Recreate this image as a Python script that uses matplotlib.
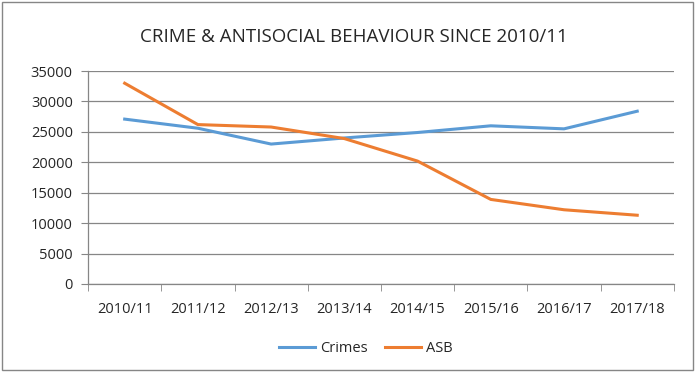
import matplotlib
matplotlib.use("Agg")
import matplotlib.pyplot as plt
from matplotlib.patches import Rectangle
import numpy as np

years = ["2010/11", "2011/12", "2012/13", "2013/14", "2014/15", "2015/16", "2016/17", "2017/18"]
crimes = [27100, 25600, 23000, 24000, 24900, 26000, 25500, 28400]
asb = [33000, 26200, 25800, 23900, 20200, 13900, 12200, 11300]

plt.rcParams['font.family'] = ['Open Sans', 'DejaVu Sans']

fig = plt.figure(figsize=(6.99, 3.72), dpi=100)
ax = fig.add_axes([0.126, 0.2366, 0.838, 0.5724])

x = np.arange(len(years))
ax.plot(x, crimes, color="#5B9BD5", lw=2.2, label="Crimes")
ax.plot(x, asb, color="#ED7D31", lw=2.2, label="ASB")

ax.set_xlim(-0.5, len(years) - 0.5)
ax.set_ylim(0, 35000)
ax.set_yticks(np.arange(0, 35001, 5000))
ax.yaxis.grid(True, color="#868686", lw=0.9)
ax.set_axisbelow(True)

ax.set_xticks(x)
ax.set_xticklabels(years)
ax.set_xticks(np.arange(-0.5, len(years), 1), minor=True)
ax.tick_params(axis="x", which="major", length=0, pad=13, labelsize=10.5, colors="#262626")
ax.tick_params(axis="x", which="minor", length=5, color="#868686")
ax.tick_params(axis="y", length=5, color="#868686", labelsize=10.5, labelcolor="#262626", pad=6)

for s in ["top", "right"]:
    ax.spines[s].set_visible(False)
for s in ["left", "bottom"]:
    ax.spines[s].set_color("#868686")
    ax.spines[s].set_linewidth(0.9)

fig.text(0.506, 0.90, "CRIME & ANTISOCIAL BEHAVIOUR SINCE 2010/11",
         ha="center", va="center", fontsize=13.5, color="#262626")

fig.legend(loc="center", bbox_to_anchor=(0.523, 0.063), ncol=2, frameon=False,
           fontsize=10.5, handlelength=2.5, columnspacing=1.2, handletextpad=0.3,
           labelcolor="#262626")

fig.patches.append(Rectangle((0.003, 0.005), 0.988, 0.99, transform=fig.transFigure,
                             fill=False, edgecolor="#868686", lw=1))

fig.savefig("out.png", dpi=100)
